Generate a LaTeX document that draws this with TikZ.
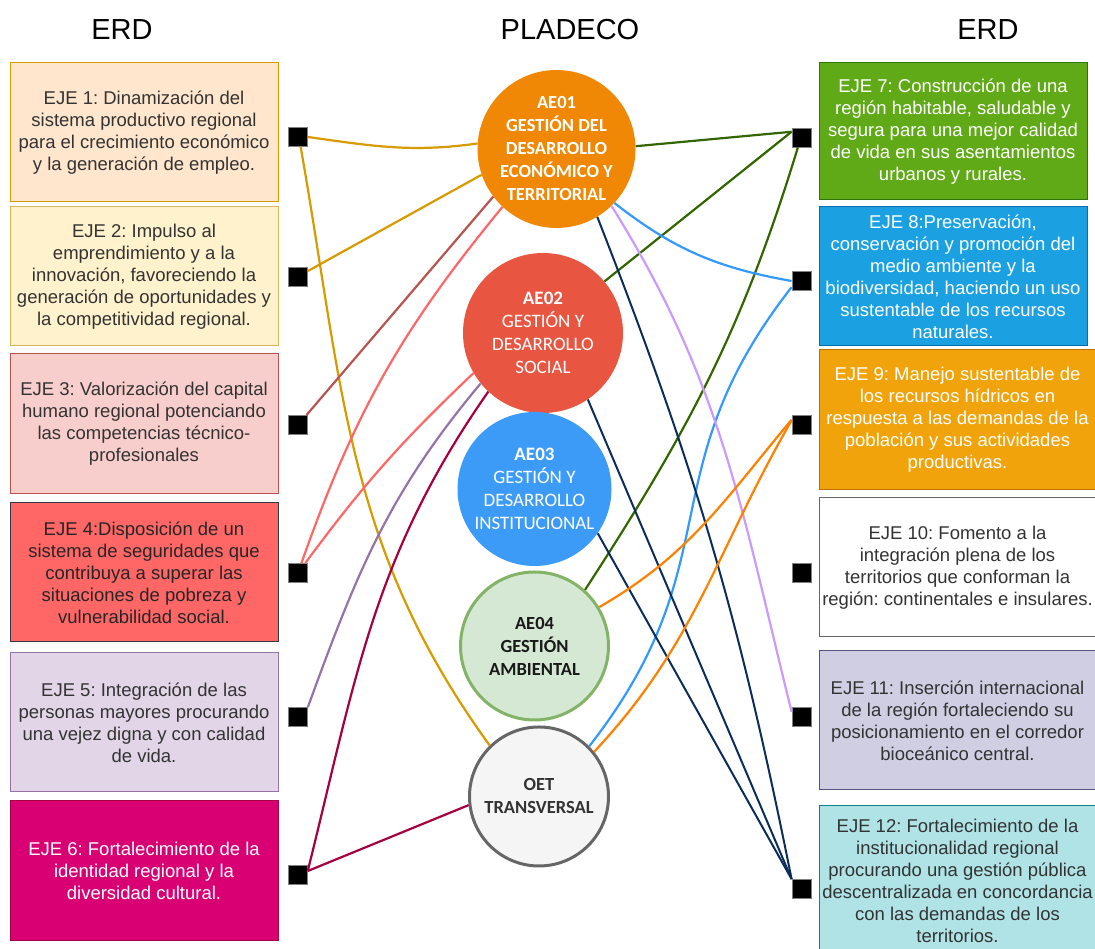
\documentclass[tikz,border=0pt]{standalone}
\usepackage{fontspec}
\setmainfont{Liberation Sans}
\newfontfamily\carlito{Carlito}
\frenchspacing
\definecolor{txt}{HTML}{333333}
\definecolor{f1}{HTML}{FFE6CC}\definecolor{d1}{HTML}{D79B00}
\definecolor{f2}{HTML}{FFF2CC}\definecolor{d2}{HTML}{D6B656}
\definecolor{f3}{HTML}{F8CECC}\definecolor{d3}{HTML}{B85450}
\definecolor{f4}{HTML}{FF6666}\definecolor{d4}{HTML}{36393D}
\definecolor{f5}{HTML}{E1D5E7}\definecolor{d5}{HTML}{9673A6}
\definecolor{f6}{HTML}{D80073}\definecolor{d6}{HTML}{A50040}
\definecolor{f7}{HTML}{60A917}\definecolor{d7}{HTML}{2D7600}
\definecolor{f8}{HTML}{1BA1E2}\definecolor{d8}{HTML}{006EAF}
\definecolor{f9}{HTML}{F0A30A}\definecolor{d9}{HTML}{BD7000}
\definecolor{f10}{HTML}{FFFFFF}\definecolor{d10}{HTML}{666666}
\definecolor{f11}{HTML}{D0CEE2}\definecolor{d11}{HTML}{56517E}
\definecolor{f12}{HTML}{B0E3E6}\definecolor{d12}{HTML}{0E8088}
\definecolor{cA}{HTML}{F08705}
\definecolor{cB}{HTML}{E85642}
\definecolor{cC}{HTML}{3D9BF8}
\definecolor{cD}{HTML}{D5E8D4}\definecolor{cDd}{HTML}{82B366}
\definecolor{cE}{HTML}{F5F5F5}
\definecolor{lgold}{HTML}{D79B00}
\definecolor{lbrown}{HTML}{B85450}
\definecolor{lpink}{HTML}{FF6666}
\definecolor{lpurple}{HTML}{9673A6}
\definecolor{lmag}{HTML}{A50040}
\definecolor{lgreen}{HTML}{336600}
\definecolor{lblue}{HTML}{3399FF}
\definecolor{llav}{HTML}{CC99FF}
\definecolor{lnavy}{HTML}{0B2D57}
\definecolor{lorange}{HTML}{FF8000}
\begin{document}
\begin{tikzpicture}[x=1pt,y=1pt,
  box/.style={draw, line width=1pt, minimum width=268pt, align=center, inner sep=0pt,
    font=\fontsize{18.5}{22}\selectfont, text=txt},
  sq/.style={fill=black, draw=gray, line width=0.8pt, minimum size=19pt, inner sep=0pt},
  circ/.style={circle, inner sep=0pt, align=center, font=\carlito\fontsize{19}{23}\selectfont},
  cbold/.style={font=\carlito\bfseries\fontsize{18.5}{23}\selectfont},
  con/.style={line width=2.2pt},
  ttl/.style={font=\fontsize{29}{32}\selectfont, text=black}]
\useasboundingbox (0,0) rectangle (1095,949);
\clip (0,0) rectangle (1095,949);
% titles
\node[ttl] (t1) at (122,919.5) {ERD};
\node[ttl] (t2) at (570,919.5) {PLADECO};
\node[ttl] (t3) at (988,919.5) {ERD};
% left boxes
\node[box, fill=f1, draw=d1, minimum height=139pt] (e1) at (144,816.5)
 {EJE 1: Dinamización del\\sistema productivo regional\\para el crecimiento económico\\y la generación de empleo.};
\node[box, fill=f2, draw=d2, minimum height=139pt] (e2) at (144,672.5)
 {EJE 2: Impulso al\\emprendimiento y a la\\innovación, favoreciendo la\\generación de oportunidades y\\la competitividad regional.};
\node[box, fill=f3, draw=d3, minimum height=140pt] (e3) at (144,525)
 {EJE 3: Valorización del capital\\humano regional potenciando\\las competencias técnico-\\profesionales};
\node[box, fill=f4, draw=d4, minimum height=139pt, text=black!85] (e4) at (144,376.5)
 {EJE 4:Disposición de un\\sistema de seguridades que\\contribuya a superar las\\situaciones de pobreza y\\vulnerabilidad social.};
\node[box, fill=f5, draw=d5, minimum height=139pt] (e5) at (144,226.5)
 {EJE 5: Integración de las\\personas mayores procurando\\una vejez digna y con calidad\\de vida.};
\node[box, fill=f6, draw=d6, minimum height=140pt, text=white] (e6) at (144,78)
 {EJE 6: Fortalecimiento de la\\identidad regional y la\\diversidad cultural.};
% right boxes
\node[box, fill=f7, draw=d7, minimum height=137pt, text=white] (e7) at (953,817.5)
 {EJE 7: Construcción de una\\región habitable, saludable y\\segura para una mejor calidad\\de vida en sus asentamientos\\urbanos y rurales.};
\node[box, fill=f8, draw=d8, minimum height=139pt, text=white] (e8) at (953,672.5)
 {EJE 8:Preservación,\\conservación y promoción del\\medio ambiente y la\\biodiversidad, haciendo un uso\\sustentable de los recursos\\naturales.};
\node[box, fill=f9, draw=d9, minimum height=140pt, minimum width=277pt, text=white] (e9) at (957.5,529)
 {EJE 9: Manejo sustentable de\\los recursos hídricos en\\respuesta a las demandas de la\\población y sus actividades\\productivas.};
\node[box, fill=f10, draw=d10, minimum height=139pt, minimum width=277pt] (e10) at (957.5,381.5)
 {EJE 10: Fomento a la\\integración plena de los\\territorios que conforman la\\región: continentales e insulares.};
\node[box, fill=f11, draw=d11, minimum height=139pt, minimum width=277pt] (e11) at (957.5,228.5)
 {EJE 11: Inserción internacional\\de la región fortaleciendo su\\posicionamiento en el corredor\\bioceánico central.};
\node[box, fill=f12, draw=d12, minimum height=149pt, minimum width=277pt] (e12) at (957.5,68.5)
 {EJE 12: Fortalecimiento de la\\institucionalidad regional\\procurando una gestión pública\\descentralizada en concordancia\\con las demandas de los\\territorios.};
% squares
\node[sq] (s1) at (298,812) {};
\node[sq] (s2) at (298,672.5) {};
\node[sq] (s3) at (298,524) {};
\node[sq] (s4) at (298,376) {};
\node[sq] (s5) at (298,232) {};
\node[sq] (s6) at (298,74) {};
\node[sq] (s7) at (801.5,811.5) {};
\node[sq] (s8) at (801.5,668) {};
\node[sq] (s9) at (801.5,524) {};
\node[sq] (s10) at (801.5,376) {};
\node[sq] (s11) at (801.5,232) {};
\node[sq] (s12) at (801.5,60) {};
% circles
\node[circ, cbold, fill=cA, minimum size=158pt, text=white] (A1) at (556.5,800)
 {AE01\\GESTIÓN DEL\\DESARROLLO\\ECONÓMICO Y\\TERRITORIAL};
\node[circ, fill=cB, minimum size=160pt, text=white] (A2) at (543,616)
 {\textbf{AE02}\\GESTIÓN Y\\DESARROLLO\\SOCIAL};
\node[circ, fill=cC, minimum size=154pt, text=white] (A3) at (534.5,460)
 {\textbf{AE03}\\GESTIÓN Y\\DESARROLLO\\INSTITUCIONAL};
\node[circ, cbold, fill=cD, draw=cDd, line width=3pt, minimum size=148pt, text=black!90] (A4) at (534.5,303)
 {AE04\\GESTIÓN\\AMBIENTAL};
\node[circ, cbold, fill=cE, draw=d10, line width=3pt, minimum size=139pt, text=txt] (A5) at (539,152.5)
 {OET\\TRANSVERSAL};
% left connectors
\draw[con, lgold] (s1.east) to[out=-8,in=188] (A1.176);
\draw[con, lgold] (s1.-75) to[out=-80,in=126] (A5.134);
\draw[con, lgold] (s2) -- (A1.199);
\draw[con, lbrown] (s3) -- (A1.217);
\draw[con, lpink] (s4) to[bend left=10] (A1.227);
\draw[con, lpink] (s4) to[bend left=5] (A2.210);
\draw[con, lpurple] (s5.north east) to[out=70,in=230] (A2.219);
\draw[con, lmag] (s6.25) to[out=76,in=235] (A2.227);
\draw[con, lmag] (s6) -- (A5.187);
% right connectors
\draw[con, lgreen] (A1.2) -- (s7.150);
\draw[con, lgreen] (A2.40) -- (s7.150);
\draw[con, lgreen] (A4.48) to[out=57,in=253] (s7.-110);
\draw[con, lblue] (A1.317) to[out=-38,in=170] (s8.west);
\draw[con, lblue] (A5.45) to[out=52,in=232,looseness=1.2] (s8.212);
\draw[con, llav] (A1.314) to[out=-58,in=104] (s11.152);
\draw[con, lnavy, line width=2pt] (A1.301) to[bend left=5] (s12.north west);
\draw[con, lnavy, line width=2pt] (A2.304.5) -- (s12.north west);
\draw[con, lnavy, line width=2pt] (A3.325.5) -- (s12.north west);
\draw[con, lorange] (A4.31) to[out=30,in=230] (s9.152);
\draw[con, lorange] (A5.39.5) to[out=47,in=240] (s9.155);
\end{tikzpicture}
\end{document}
